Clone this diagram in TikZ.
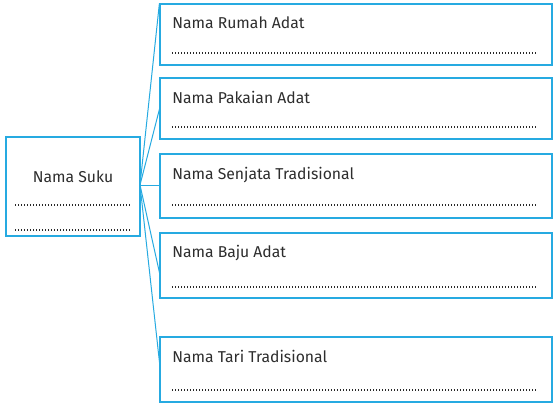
\documentclass[tikz,border=0pt]{standalone}
\usepackage{fontspec}
\setmainfont{Fira Sans}
\definecolor{boxblue}{RGB}{38,170,225}
\definecolor{txt}{RGB}{45,45,45}
\begin{document}
\begin{tikzpicture}[x=0.75pt,y=-0.75pt,
  box/.style={draw=boxblue,line width=0.9pt,rectangle,inner sep=0pt,minimum width=294pt},
  conn/.style={draw=boxblue,line width=0.75pt},
  lbl/.style={anchor=base west,inner sep=0pt,text=txt,font=\fontsize{11.8}{13}\selectfont},
  dots/.style={draw=txt!90!black,line width=1.3pt,dash pattern=on 0.9pt off 1.35pt}]
\useasboundingbox (0,0) rectangle (557,407);
\node[box,minimum width=100.5pt,minimum height=74.25pt] (suku) at (73,186.5) {};
\node[box,minimum height=45.75pt] (b1) at (356,34.5) {};
\node[box,minimum height=45.75pt] (b2) at (356,108.5) {};
\node[box,minimum height=48pt] (b3) at (356,186) {};
\node[box,minimum height=48.75pt] (b4) at (356,265.5) {};
\node[box,minimum height=48.75pt] (b5) at (356,369.5) {};
\node[anchor=base,inner sep=0pt,text=txt,font=\fontsize{11.8}{13}\selectfont] (tsuku) at (73,182) {Nama Suku};
\node[lbl] (t1) at (172,28) {Nama Rumah Adat};
\node[lbl] (t2) at (172,103) {Nama Pakaian Adat};
\node[lbl] (t3) at (172,179) {Nama Senjata Tradisional};
\node[lbl] (t4) at (172,257) {Nama Baju Adat};
\node[lbl] (t5) at (172,362) {Nama Tari Tradisional};
\coordinate (s0) at (15,205); \coordinate (e0) at (131,205);
\coordinate (s0b) at (15,230); \coordinate (e0b) at (131,230);
\draw[dots] (s0) -- (e0);
\draw[dots] (s0b) -- (e0b);
\foreach \y [count=\i] in {53,127,205,287,390}{
  \coordinate (ds\i) at (172,\y); \coordinate (de\i) at (537,\y);
  \draw[dots] (ds\i) -- (de\i);
}
\coordinate (hub) at (140,185);
\coordinate (c1) at (b1.north west);
\coordinate (c2) at (160,107);
\coordinate (c3) at (160,185);
\coordinate (c4) at (160,275);
\coordinate (c5) at (160,367);
\foreach \i in {1,...,5}{\draw[conn] (hub) -- (c\i);}
\end{tikzpicture}
\end{document}
